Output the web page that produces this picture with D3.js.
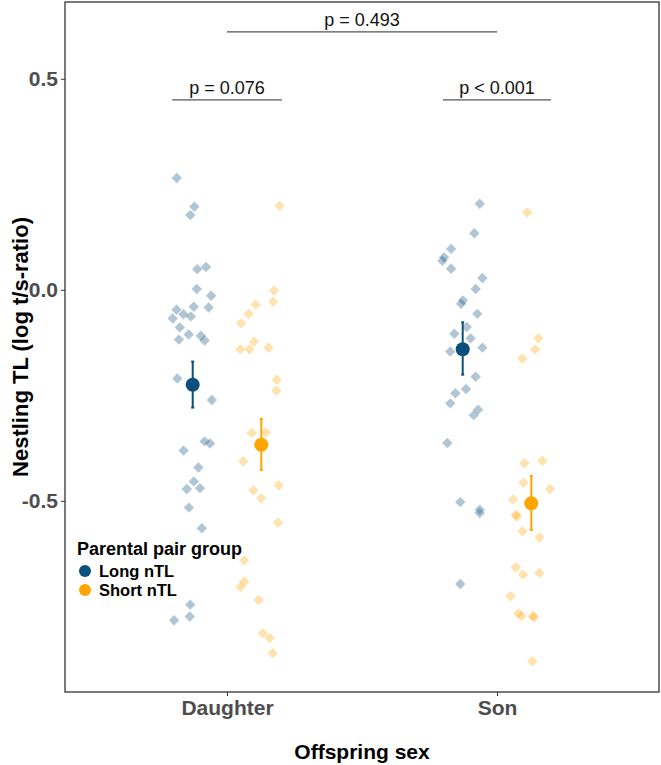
<!DOCTYPE html>
<html><head><meta charset="utf-8">
<script src="https://cdn.jsdelivr.net/npm/d3@7"></script>
<style>
html,body{margin:0;padding:0;background:#fff;}
svg{display:block;font-family:"Liberation Sans",Arial,sans-serif;}
</style></head>
<body>
<svg id="chart" width="661" height="765"></svg>
<script>
// ---- data ----
const categories = ["Daughter", "Son"];
const groups = ["Long nTL", "Short nTL"];
const groupColors = ["#0b4f7c", "#ffa500"];

const daughterLongValues = [0.265,0.197,0.177,0.049,0.054,0.002,-0.014,-0.047,-0.040,-0.042,-0.058,-0.063,-0.068,-0.089,-0.106,-0.109,-0.120,-0.118,-0.210,-0.261,-0.381,-0.359,-0.364,-0.421,-0.454,-0.472,-0.470,-0.516,-0.565,-0.746,-0.774,-0.783];
const daughterLongJitter = [-0.059,0.006,-0.009,0.017,0.049,0.015,0.068,-0.060,0.004,0.059,-0.034,-0.007,-0.074,-0.048,-0.015,0.030,0.044,-0.051,-0.057,0.071,-0.034,0.044,0.064,0.021,0.004,-0.022,0.027,-0.014,0.034,-0.009,-0.011,-0.069];

const daughterShortValues = [0.199,-0.002,-0.028,-0.035,-0.057,-0.079,-0.123,-0.141,-0.141,-0.137,-0.213,-0.239,-0.339,-0.338,-0.406,-0.463,-0.475,-0.494,-0.552,-0.641,-0.691,-0.704,-0.735,-0.814,-0.825,-0.861];
const daughterShortJitter = [0.068,0.047,0.044,-0.021,-0.047,-0.075,-0.027,-0.078,-0.044,0.027,0.057,0.056,-0.036,0.017,-0.067,0.064,-0.029,0.000,0.062,-0.063,-0.063,-0.077,-0.010,0.005,0.031,0.042];

const sonLongValues = [0.204,0.134,0.097,0.077,0.069,0.050,0.028,0.002,-0.025,-0.033,-0.057,-0.088,-0.104,-0.115,-0.146,-0.137,-0.206,-0.235,-0.245,-0.269,-0.284,-0.297,-0.363,-0.503,-0.521,-0.529,-0.697];
const sonLongJitter = [0.063,0.043,-0.043,-0.069,-0.075,-0.043,0.073,0.048,0.001,-0.006,0.054,0.015,-0.031,0.029,-0.046,0.073,0.048,0.012,-0.027,-0.046,0.057,0.041,-0.057,-0.009,0.063,0.063,-0.009];

const sonShortValues = [0.183,-0.115,-0.141,-0.163,-0.411,-0.405,-0.457,-0.472,-0.497,-0.533,-0.537,-0.572,-0.587,-0.658,-0.675,-0.671,-0.726,-0.767,-0.773,-0.773,-0.776,-0.880];
const sonShortJitter = [-0.015,0.026,0.014,-0.033,-0.025,0.041,-0.029,0.069,-0.068,-0.058,-0.053,-0.033,0.030,-0.058,-0.031,0.030,-0.077,-0.048,-0.036,0.006,0.010,0.004];

// group means with error bars (order: Daughter-Long, Daughter-Short, Son-Long, Son-Short)
const meanCategory = ["Daughter", "Daughter", "Son", "Son"];
const meanGroup = ["Long nTL", "Short nTL", "Long nTL", "Short nTL"];
const meanValues = [-0.225, -0.367, -0.141, -0.506];
const errLow = [-0.279, -0.427, -0.201, -0.569];
const errHigh = [-0.170, -0.306, -0.077, -0.441];

const yTicks = [-0.5, 0.0, 0.5];

// p-value brackets
const pLabels = ["p = 0.076", "p < 0.001", "p = 0.493"];
const pFrom = [0.797, 1.800, 1.000];
const pTo = [1.203, 2.200, 2.000];
const pY = [0.450, 0.450, 0.611];

// ---- layout ----
const W = 661, H = 765;
const margin = {left: 65, right: 2, top: 2, bottom: 73};
const svg = d3.select("#chart");
const x = d3.scaleLinear().domain([0.4, categories.length + 0.6]).range([margin.left, W - margin.right]);
const y = d3.scaleLinear().domain([-0.953, 0.682]).range([H - margin.bottom, margin.top]);
const dodge = 0.127;
const catIndex = c => categories.indexOf(c) + 1;
const grpOffset = g => (groups.indexOf(g) === 0 ? -dodge : dodge);
const color = d3.scaleOrdinal().domain(groups).range(groupColors);

// build point table
const series = [
  {cat: "Daughter", grp: "Long nTL", v: daughterLongValues, j: daughterLongJitter},
  {cat: "Daughter", grp: "Short nTL", v: daughterShortValues, j: daughterShortJitter},
  {cat: "Son", grp: "Long nTL", v: sonLongValues, j: sonLongJitter},
  {cat: "Son", grp: "Short nTL", v: sonShortValues, j: sonShortJitter}
];
const points = [];
series.forEach(s => s.v.forEach((val, i) => points.push({cat: s.cat, grp: s.grp, val, jit: s.j[i]})));

// points (diamonds)
const diamond = d3.symbol().type(d3.symbolSquare).size(54);
svg.append("g").selectAll("path").data(points).join("path")
  .attr("d", diamond)
  .attr("transform", d => `translate(${x(catIndex(d.cat) + grpOffset(d.grp) + d.jit)},${y(d.val)}) rotate(45)`)
  .attr("fill", d => color(d.grp))
  .attr("fill-opacity", 0.32);

// error bars + means
const means = meanValues.map((m, i) => ({cat: meanCategory[i], grp: meanGroup[i], m, lo: errLow[i], hi: errHigh[i]}));
const mg = svg.append("g");
means.forEach(d => {
  const cx = x(catIndex(d.cat) + grpOffset(d.grp));
  const c = color(d.grp);
  mg.append("line").attr("x1", cx).attr("x2", cx).attr("y1", y(d.lo)).attr("y2", y(d.hi))
    .attr("stroke", c).attr("stroke-width", 2);
  [d.lo, d.hi].forEach(v => mg.append("line").attr("x1", cx - 1.5).attr("x2", cx + 1.5)
    .attr("y1", y(v)).attr("y2", y(v)).attr("stroke", c).attr("stroke-width", 2));
  mg.append("circle").attr("cx", cx).attr("cy", y(d.m)).attr("r", 7).attr("fill", c);
});

// p-value brackets
const pg = svg.append("g");
pLabels.forEach((lab, i) => {
  pg.append("line").attr("x1", x(pFrom[i])).attr("x2", x(pTo[i]))
    .attr("y1", y(pY[i])).attr("y2", y(pY[i]))
    .attr("stroke", "#555").attr("stroke-width", 1.3);
  pg.append("text").attr("x", (x(pFrom[i]) + x(pTo[i])) / 2).attr("y", y(pY[i]) - 6)
    .attr("text-anchor", "middle").attr("font-size", 18).attr("fill", "#111")
    .attr("font-family", "'Liberation Sans Narrow','Arial Narrow','Liberation Sans',sans-serif")
    .text(lab);
});

// panel border
svg.append("rect").attr("x", margin.left).attr("y", margin.top)
  .attr("width", W - margin.right - margin.left).attr("height", H - margin.bottom - margin.top)
  .attr("fill", "none").attr("stroke", "#333").attr("stroke-width", 1.3);

// axes
const yAxis = svg.append("g").attr("transform", `translate(${margin.left},0)`)
  .call(d3.axisLeft(y).tickValues(yTicks).tickFormat(d => d.toFixed(1)).tickSize(4).tickPadding(3));
yAxis.select(".domain").remove();
yAxis.selectAll("line").attr("stroke", "#333");
yAxis.selectAll("text").attr("font-size", 21).attr("font-weight", "bold").attr("fill", "#4d4d4d")
  .attr("font-family", "'Liberation Sans',Arial,sans-serif");

const xAxis = svg.append("g").attr("transform", `translate(0,${H - margin.bottom})`)
  .call(d3.axisBottom(x).tickValues(categories.map((c, i) => i + 1)).tickFormat(d => categories[d - 1]).tickSize(4).tickPadding(4));
xAxis.select(".domain").remove();
xAxis.selectAll("line").attr("stroke", "#333");
xAxis.selectAll("text").attr("font-size", 21).attr("font-weight", "bold").attr("fill", "#4d4d4d")
  .attr("font-family", "'Liberation Sans',Arial,sans-serif");

// axis titles
svg.append("text").attr("x", (margin.left + W - margin.right) / 2).attr("y", 759)
  .attr("text-anchor", "middle").attr("font-size", 21).attr("font-weight", "bold").attr("fill", "#000")
  .text("Offspring sex");
svg.append("text").attr("transform", `translate(28,${(margin.top + H - margin.bottom) / 2}) rotate(-90)`)
  .attr("text-anchor", "middle").attr("font-size", 22).attr("font-weight", "bold").attr("fill", "#000")
  .text("Nestling TL (log t/s-ratio)");

// legend
const lg = svg.append("g").attr("transform", "translate(77,0)");
lg.append("text").attr("x", 0).attr("y", 555).attr("font-size", 18).attr("font-weight", "bold").text("Parental pair group");
groups.forEach((g, i) => {
  const cy = 571 + i * 19;
  lg.append("circle").attr("cx", 8).attr("cy", cy).attr("r", 6).attr("fill", color(g));
  lg.append("text").attr("x", 22).attr("y", cy + 6).attr("font-size", 16.5).attr("font-weight", "bold").text(g);
});
</script>
</body></html>
